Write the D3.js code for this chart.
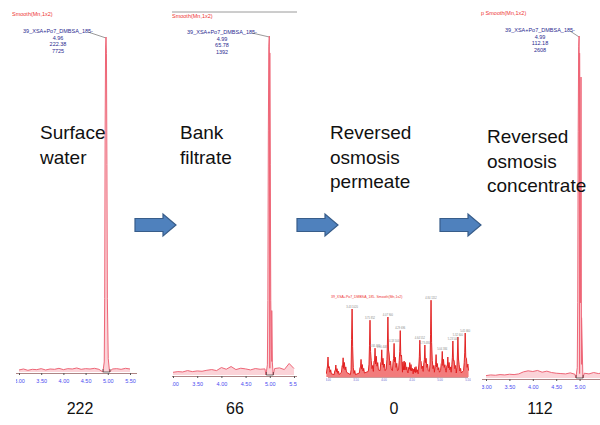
<!DOCTYPE html>
<html>
<head>
<meta charset="utf-8">
<script src="https://cdn.jsdelivr.net/npm/d3@7"></script>
<style>
  body { margin: 0; background: #fff; }
  svg { display: block; font-family: Arial, "Liberation Sans", sans-serif; }
</style>
</head>
<body>
<svg width="600" height="425"></svg>
<script>
const svg = d3.select("svg");

// samples and their summed peak areas
const sampleLines = [
  ["Surface", "water"],
  ["Bank", "filtrate"],
  ["Reversed", "osmosis", "permeate"],
  ["Reversed", "osmosis", "concentrate"]
];
const peakAreaLabels = ["222", "66", "0", "112"];

// peak annotations (retention time, area, height)
const compound = "39_XSA+Po7_DMBSA_185-";
const peakRT = [4.96, 4.99, null, 4.99];
const peakArea = ["222.38", "65.78", null, "112.18"];
const peakHeight = ["7725", "1392", null, "2608"];

const timeTicks = [3.00, 3.50, 4.00, 4.50, 5.00, 5.50];

// peak profile: offset from RT (min) and relative intensity (%)
const peakOffsets = [-0.07, -0.04, -0.03, -0.02, -0.01, 0, 0.01, 0.02, 0.03, 0.05, 0.08];
const peakShape = [0, 3, 22, 72, 97, 100, 95, 62, 22, 4, 0];

// shoulder right after the main peak (bank filtrate, concentrate)
const shoulderRT = [null, 5.04, null, 5.03];
const shoulderHeight = [0, 19, 0, 88];

// baseline noise, 3.0 to 5.5 min in 0.1 min steps (%)
const noise = [
  [0.6, 0.9, 0.5, 0.8, 0.7, 1.0, 0.6, 0.9, 0.8, 1.1, 0.7, 1.0, 0.9, 1.2, 0.8, 1.0, 0.9, 1.1, 0.8, 1.0, 1.2, 0.9, 1.0, 0.8, 1.1, 0.9],
  [0.8, 1.0, 0.9, 1.3, 1.0, 1.2, 1.1, 1.4, 1.6, 1.3, 2.2, 1.7, 2.5, 1.6, 2.0, 1.8, 1.5, 1.9, 1.7, 1.8, 2.0, 1.9, 2.1, 1.6, 3.4, 1.9],
  null,
  [0.7, 0.9, 0.8, 1.0, 0.9, 1.1, 1.0, 1.2, 1.8, 2.1, 1.9, 2.2, 1.7, 2.0, 1.6, 1.4, 1.3, 1.2, 1.5, 1.1, 1.3, 1.4, 1.2, 1.6, 1.3, 1.5]
];

// permeate: many small peaks (time, relative intensity %)
const permeateTimes = [3.00, 3.14, 3.27, 3.43, 3.59, 3.75, 3.84, 3.96, 4.07, 4.18, 4.29, 4.36, 4.46, 4.55, 4.64, 4.73, 4.84, 4.93, 5.04, 5.14, 5.23, 5.32, 5.45];
const permeateHeights = [25, 15, 24, 85, 22, 71, 36, 34, 75, 42, 58, 20, 18, 12, 46, 40, 96, 28, 32, 25, 45, 50, 55];
const permeateFloor = [10, 8, 14, 9, 12, 16, 20, 18, 22, 19, 21, 14, 12, 10, 15, 18, 16, 13, 17, 14, 16, 12, 18];
const permeateValley = [4, 3, 6, 3, 5, 7, 9, 8, 10, 8, 9, 6, 5, 4, 7, 8, 7, 6, 8, 6, 7, 5, 8];

// layout of the screenshot panels
const panels = [
  { x0: 12, x1: 137, t0: 19, t1: 130, base: 372, top: 37, topLabelY: 16, annX: 58, annY: 33, header: false, tickClip: 16, lastTick: 5.5 },
  { x0: 172, x1: 297, t0: 173, t1: 294, base: 375, top: 36, topLabelY: 18, annX: 222, annY: 34, header: true, tickClip: 172, lastTick: 5.5 },
  null,
  { x0: 480, x1: 600, t0: 486, t1: 603, base: 378, top: 36, topLabelY: 15, annX: 540, annY: 32, header: false, tickClip: 482, lastTick: 5.0 }
];
const labelPos = [[40, 139], [180, 139], [330, 139], [487, 143]];
const numberX = [80, 235, 394, 540];
const arrowsX = [135, 297, 440];

const defs = svg.append("defs");

panels.forEach((p, i) => {
  if (!p) return;
  defs.append("clipPath").attr("id", "clip" + i)
    .append("rect").attr("x", p.x0).attr("y", 0).attr("width", p.x1 - p.x0).attr("height", 400);
  defs.append("clipPath").attr("id", "tclip" + i)
    .append("rect").attr("x", p.tickClip).attr("y", 0).attr("width", p.x1 - p.tickClip).attr("height", 400);

  const g = svg.append("g").attr("clip-path", `url(#clip${i})`);
  const x = d3.scaleLinear().domain([3.0, 5.5]).range([p.t0, p.t1]);
  const y = d3.scaleLinear().domain([0, 100]).range([p.base, p.top]);

  if (p.header) {
    g.append("line").attr("x1", p.x0).attr("x2", p.x1).attr("y1", 12).attr("y2", 12)
      .attr("stroke", "#9a9a9a").attr("stroke-width", 1);
  }
  g.append("text").attr("x", p.x0 + (i === 3 ? 1 : 0)).attr("y", p.topLabelY)
    .attr("font-size", 5.5).attr("fill", "#ee3333")
    .text((i === 3 ? "p " : "") + "Smooth(Mn,1x2)");

  // annotation
  const ann = g.append("text").attr("x", p.annX).attr("y", p.annY)
    .attr("text-anchor", "middle").attr("font-size", 5.5).attr("fill", "#2a2a90");
  [compound, peakRT[i].toFixed(2), peakArea[i], peakHeight[i]].forEach((s, k) => {
    ann.append("tspan").attr("x", p.annX).attr("dy", k === 0 ? 0 : 6.6).text(s);
  });
  const px = x(peakRT[i]);
  g.append("line").attr("x1", p.annX + 30).attr("y1", p.annY - 1)
    .attr("x2", px).attr("y2", p.top + 1).attr("stroke", "#555").attr("stroke-width", 0.6);

  // trace: noise + peak + shoulder
  const pts = noise[i].map((v, k) => [3.0 + k * 0.1, v]);
  peakOffsets.forEach((o, k) => pts.push([peakRT[i] + o, peakShape[k]]));
  if (shoulderRT[i]) {
    pts.push([shoulderRT[i] - 0.008, shoulderHeight[i] * 0.4]);
    pts.push([shoulderRT[i], shoulderHeight[i]]);
    pts.push([shoulderRT[i] + 0.012, shoulderHeight[i] * 0.2]);
  }
  pts.sort((a, b) => a[0] - b[0]);
  const clean = pts.filter(d => !(Math.abs(d[0] - peakRT[i]) < 0.085 && peakOffsets.every(o => Math.abs(peakRT[i] + o - d[0]) > 1e-9) &&
    !(shoulderRT[i] && Math.abs(d[0] - shoulderRT[i]) < 0.013)));

  g.append("path").datum(clean)
    .attr("d", d3.area().x(d => x(d[0])).y0(p.base).y1(d => y(d[1])))
    .attr("fill", "#fbd3d8");
  g.append("path").datum(clean)
    .attr("d", d3.line().x(d => x(d[0])).y(d => y(d[1])))
    .attr("fill", "none").attr("stroke", "#ee6677").attr("stroke-width", 1);

  // integration marker at peak base
  g.append("path")
    .attr("d", `M${px - 3},${p.base - 3} L${px - 3},${p.base} L${px + 4},${p.base} L${px + 4},${p.base - 3}`)
    .attr("fill", "none").attr("stroke", "#333").attr("stroke-width", 0.7);

  // axis
  const axis = svg.append("g").attr("clip-path", `url(#tclip${i})`)
    .append("g").attr("transform", `translate(0,${p.base + 1})`)
    .call(d3.axisBottom(x).tickValues(timeTicks.filter(t => t <= p.lastTick)).tickSize(2).tickFormat(d3.format(".2f")));
  axis.select(".domain").attr("stroke", "#996666").attr("stroke-width", 0.8)
    .attr("d", `M${p.x0},0.5H${p.x1}`);
  axis.selectAll(".tick line").attr("stroke", "#555");
  axis.selectAll(".tick text").attr("font-size", 5.5).attr("fill", "#4a4af0").attr("dy", "0.9em")
    .attr("font-family", "Arial, sans-serif");
});

// permeate inset
{
  const x = d3.scaleLinear().domain([3.0, 5.5]).range([328, 468]);
  const y = d3.scaleLinear().domain([0, 100]).range([377, 297]);
  defs.append("clipPath").attr("id", "clipP")
    .append("rect").attr("x", 326).attr("y", 290).attr("width", 145).attr("height", 95);
  const g = svg.append("g").attr("clip-path", "url(#clipP)");

  g.append("text").attr("x", 331).attr("y", 298).attr("font-size", 3.5).attr("fill", "#ee3333")
    .text(compound + " Smooth(Mn,1x2)");

  const pts = [];
  permeateTimes.forEach((t, k) => {
    pts.push([t - 0.03, permeateValley[k]]);
    pts.push([t - 0.018, permeateFloor[k]]);
    pts.push([t - 0.009, permeateHeights[k] * 0.55]);
    pts.push([t, permeateHeights[k]]);
    pts.push([t + 0.01, permeateHeights[k] * 0.45]);
    pts.push([t + 0.022, permeateFloor[k] * 1.3]);
    pts.push([t + 0.035, permeateValley[k] * 1.5]);
    pts.push([t + 0.048, permeateFloor[k] * 0.9]);
    pts.push([t + 0.06, permeateValley[k]]);
  });
  pts.sort((a, b) => a[0] - b[0]);
  g.append("path").datum(pts)
    .attr("d", d3.area().x(d => x(d[0])).y0(377).y1(d => y(d[1])))
    .attr("fill", "#f27c7c");
  g.append("path").datum(pts)
    .attr("d", d3.line().x(d => x(d[0])).y(d => y(d[1])))
    .attr("fill", "none").attr("stroke", "#e01818").attr("stroke-width", 0.9);

  // tiny peak labels
  permeateTimes.forEach((t, k) => {
    if (permeateHeights[k] < 30) return;
    g.append("text").attr("x", x(t)).attr("y", y(permeateHeights[k]) - 1.5)
      .attr("text-anchor", "middle").attr("font-size", 2.6).attr("fill", "#888")
      .text(t.toFixed(2) + "  " + Math.round(permeateHeights[k] * 12));
  });

  g.append("line").attr("x1", 328).attr("x2", 468).attr("y1", 377.5).attr("y2", 377.5)
    .attr("stroke", "#aa5555").attr("stroke-width", 0.6);
  timeTicks.forEach(t => {
    g.append("text").attr("x", x(t)).attr("y", 381).attr("text-anchor", "middle")
      .attr("font-size", 2.8).attr("fill", "#6666cc").text(t.toFixed(2));
  });
}

// sample labels
sampleLines.forEach((lines, i) => {
  const t = svg.append("text").attr("x", labelPos[i][0]).attr("y", labelPos[i][1])
    .attr("font-size", 19).attr("fill", "#111");
  lines.forEach((s, k) => {
    t.append("tspan").attr("x", labelPos[i][0]).attr("dy", k === 0 ? 0 : 24.5).text(s);
  });
});

// peak area numbers
peakAreaLabels.forEach((s, i) => {
  svg.append("text").attr("x", numberX[i]).attr("y", 414).attr("text-anchor", "middle")
    .attr("font-size", 16).attr("fill", "#111").text(s);
});

// block arrows between the panels
arrowsX.forEach(ax => {
  const w = 41, h = 22, shaft = 13, head = 13, cy = 225;
  const d = `M${ax},${cy - shaft / 2} L${ax + w - head},${cy - shaft / 2} L${ax + w - head},${cy - h / 2}
    L${ax + w},${cy} L${ax + w - head},${cy + h / 2} L${ax + w - head},${cy + shaft / 2} L${ax},${cy + shaft / 2} Z`;
  svg.append("path").attr("d", d).attr("fill", "#4f81bd").attr("stroke", "#385d8a").attr("stroke-width", 1.2);
});
</script>
</body>
</html>
